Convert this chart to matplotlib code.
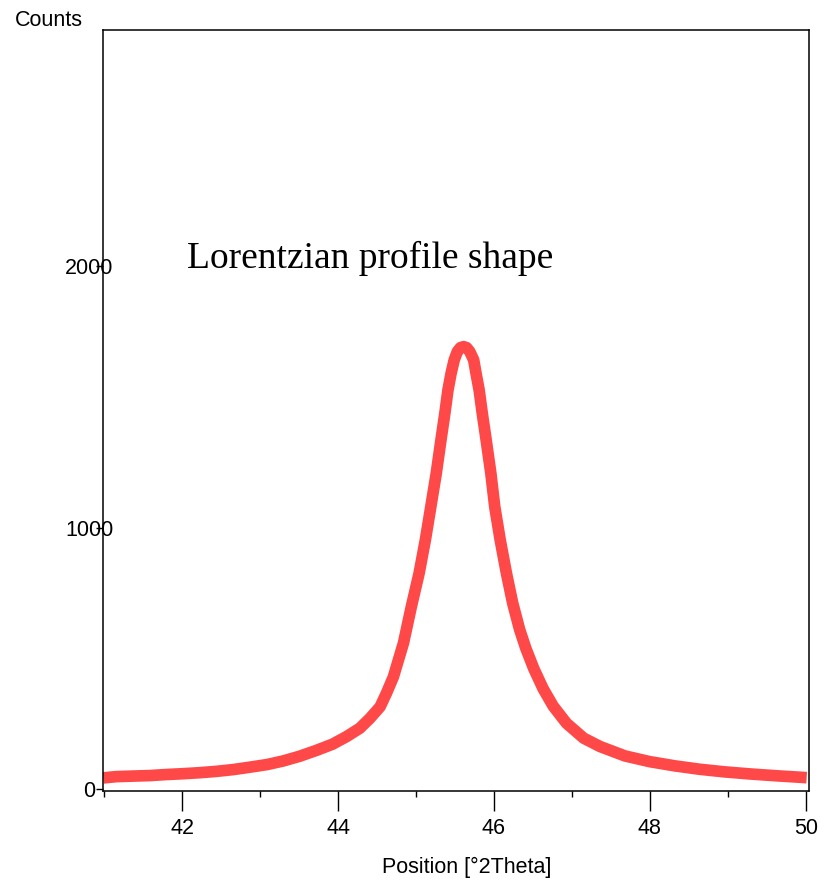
import matplotlib
matplotlib.use("Agg")
import matplotlib.pyplot as plt
from matplotlib.ticker import MultipleLocator

# Measured diffraction peak (position in °2Theta, intensity in counts)
position = [40.99, 41.16, 41.37, 41.59, 41.80, 42.01, 42.23, 42.44, 42.66,
            42.87, 43.09, 43.30, 43.51, 43.73, 43.93, 44.11, 44.28, 44.41,
            44.54, 44.62, 44.71, 44.75, 44.84, 44.94, 45.04, 45.12, 45.19,
            45.26, 45.32, 45.37, 45.41, 45.45, 45.49, 45.53, 45.57, 45.61,
            45.65, 45.69, 45.74, 45.77, 45.81, 45.85, 45.90, 45.96, 46.01,
            46.08, 46.16, 46.24, 46.33, 46.41, 46.51, 46.63, 46.76, 46.93,
            47.15, 47.36, 47.68, 48.00, 48.32, 48.64, 48.96, 49.29, 49.63,
            50.01]
counts = [44, 49, 51, 53, 57, 60, 64, 69, 76,
          85, 95, 109, 127, 150, 173, 202, 234, 272,
          316, 367, 430, 470, 560, 698, 826, 953, 1080,
          1208, 1335, 1437, 1526, 1590, 1641, 1673, 1688, 1692,
          1688, 1673, 1641, 1590, 1526, 1437, 1335, 1208, 1080,
          953, 826, 712, 610, 538, 462, 385, 318, 253,
          196, 164, 128, 106, 90, 77, 67, 59, 52,
          45]

x_major = [42, 44, 46, 48, 50]
y_major = [0, 1000, 2000]

W, H, DPI = 837, 881, 100
fig = plt.figure(figsize=(W / DPI, H / DPI), dpi=DPI)
ax = fig.add_axes([103.3 / W, 1 - 791 / H, (809 - 103.3) / W, (791 - 30) / H])

sans = "Liberation Sans"
ax.plot(position, counts, color="#ff4848", lw=8.4,
        solid_capstyle="butt", solid_joinstyle="round")

ax.set_xlim(40.99, 50.04)
ax.set_ylim(-6, 2902)

ax.set_xticks(x_major)
ax.set_xticklabels([str(v) for v in x_major])
ax.xaxis.set_minor_locator(MultipleLocator(1))
ax.set_yticks(y_major)
ax.set_yticklabels([str(v) for v in y_major])

ax.tick_params(axis="x", which="major", direction="out", length=14.4,
               width=1.0, pad=5, labelsize=15.5)
ax.tick_params(axis="x", which="minor", direction="out", length=4.5, width=1.0)
ax.tick_params(axis="y", which="major", direction="out", length=5,
               width=1.0, pad=5, labelsize=15.5)
for lab in ax.get_xticklabels() + ax.get_yticklabels():
    lab.set_fontfamily(sans)
for lab in ax.get_yticklabels():
    lab.set_horizontalalignment("center")

for sp in ax.spines.values():
    sp.set_linewidth(1.1)
    sp.set_color("black")

ax.text(42.064, 1991, "Lorentzian profile shape", family="Liberation Serif",
        fontsize=27, va="baseline", ha="left")

fig.text(15 / W, 1 - 26 / H, "Counts", family=sans, fontsize=15.5,
         va="baseline", ha="left")
fig.text(466.7 / W, 1 - 873 / H, "Position [°2Theta]", family=sans,
         fontsize=15.5, va="baseline", ha="center")

fig.savefig("out.png", dpi=DPI)
